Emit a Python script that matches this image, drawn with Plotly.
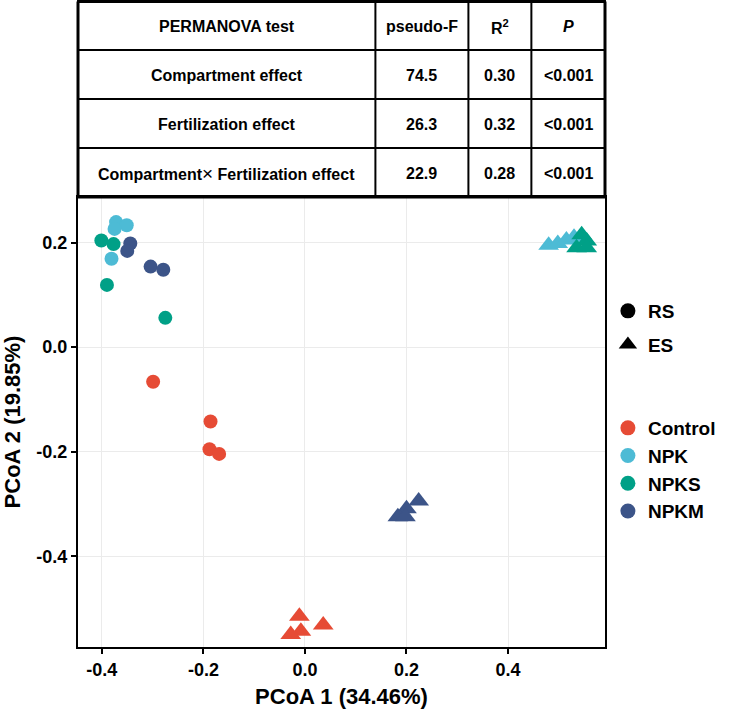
import plotly.graph_objects as go

# ---------------- data ----------------
groups = ["Control", "NPK", "NPKS", "NPKM"]
group_colors = ["#E64B35", "#4DBBD5", "#00A087", "#3C5488"]

# RS compartment (circles)
rs_control_x = [-0.299, -0.186, -0.188, -0.169]
rs_control_y = [-0.066, -0.142, -0.195, -0.204]
rs_npk_x = [-0.372, -0.351, -0.375, -0.381]
rs_npk_y = [0.239, 0.233, 0.226, 0.169]
rs_npks_x = [-0.401, -0.377, -0.390, -0.275]
rs_npks_y = [0.204, 0.197, 0.119, 0.056]
rs_npkm_x = [-0.344, -0.350, -0.304, -0.279]
rs_npkm_y = [0.198, 0.184, 0.154, 0.148]

# ES compartment (triangles)
es_control_x = [-0.011, 0.036, -0.008, -0.028]
es_control_y = [-0.514, -0.531, -0.543, -0.549]
es_npk_x = [0.480, 0.498, 0.515, 0.530]
es_npk_y = [0.195, 0.198, 0.205, 0.210]
es_npks_x = [0.545, 0.555, 0.535, 0.555]
es_npks_y = [0.215, 0.203, 0.190, 0.190]
es_npkm_x = [0.224, 0.200, 0.183, 0.198]
es_npkm_y = [-0.294, -0.309, -0.324, -0.324]

# axes
x_tickvals = [-0.4, -0.2, 0.0, 0.2, 0.4]
x_ticktext = ["-0.4", "-0.2", "0.0", "0.2", "0.4"]
y_tickvals = [-0.4, -0.2, 0.0, 0.2]
y_ticktext = ["-0.4", "-0.2", "0.0", "0.2"]
x_title = "PCoA 1 (34.46%)"
y_title = "PCoA 2 (19.85%)"

# PERMANOVA table
table_header = ["PERMANOVA test", "pseudo-F", "R<sup>2</sup>", "<i>P</i>"]
effects = ["Compartment effect", "Fertilization effect",
           "Compartment<span style=\"font-weight:normal;font-size:19px\">\u00d7</span> Fertilization effect"]
pseudo_f = ["74.5", "26.3", "22.9"]
r_squared = ["0.30", "0.32", "0.28"]
p_values = ["&lt;0.001", "&lt;0.001", "&lt;0.001"]

shape_labels = ["RS", "ES"]
shape_symbols = ["circle", "triangle-up"]

# ---------------- layout geometry (pixels) ----------------
W, H = 733, 710
L, R, T, B = 78, 622, 197, 647


def pxx(px):
    return (px - L) / (R - L)


def pxy(py):
    return (B - py) / (B - T)


FONT = "Arial, 'Liberation Sans', sans-serif"
BOLD = dict(family=FONT, color="black", weight="bold")

fig = go.Figure()

rs_sets = [(rs_control_x, rs_control_y), (rs_npk_x, rs_npk_y),
           (rs_npks_x, rs_npks_y), (rs_npkm_x, rs_npkm_y)]
es_sets = [(es_control_x, es_control_y), (es_npk_x, es_npk_y),
           (es_npks_x, es_npks_y), (es_npkm_x, es_npkm_y)]

for g, c, (xs, ys) in zip(groups, group_colors, rs_sets):
    fig.add_trace(go.Scatter(x=xs, y=ys, mode="markers", showlegend=False,
                             marker=dict(symbol="circle", size=14, color=c,
                                         line=dict(width=0))))
for g, c, (xs, ys) in zip(groups, group_colors, es_sets):
    fig.add_trace(go.Scatter(x=xs, y=ys, mode="markers", showlegend=False,
                             marker=dict(symbol="triangle-up", size=18, color=c,
                                         line=dict(width=0))))

# legend entries: shapes
for i, (lab, sym) in enumerate(zip(shape_labels, shape_symbols)):
    fig.add_trace(go.Scatter(x=[None], y=[None], mode="markers", name=lab,
                             legend="legend", legendgroup="s%d" % i,
                             marker=dict(symbol=sym, size=15 if i == 0 else 19,
                                         color="black", line=dict(width=0))))
# legend entries: colours
for i, (g, c) in enumerate(zip(groups, group_colors)):
    fig.add_trace(go.Scatter(x=[None], y=[None], mode="markers", name=g,
                             legend="legend2", legendgroup="c%d" % i,
                             marker=dict(symbol="circle", size=15, color=c,
                                         line=dict(width=0))))

# ---------------- table ----------------
col_x = [78, 385, 481, 546, 622]
row_y = [1.5, 50, 99, 148, 197]
shapes = []
for k, xv in enumerate(col_x):
    w = 3 if k in (0, len(col_x) - 1) else 2
    shapes.append(dict(type="line", xref="paper", yref="paper",
                       x0=pxx(xv), x1=pxx(xv), y0=pxy(row_y[0]), y1=pxy(row_y[-1]),
                       line=dict(color="black", width=w)))
for k, yv in enumerate(row_y):
    w = 3 if k in (0, len(row_y) - 1) else 2
    shapes.append(dict(type="line", xref="paper", yref="paper",
                       x0=pxx(col_x[0] - 1), x1=pxx(col_x[-1] + 1), y0=pxy(yv), y1=pxy(yv),
                       line=dict(color="black", width=w)))

annotations = []
col_centers = [(col_x[i] + col_x[i + 1]) / 2 for i in range(4)]
row_centers = [(row_y[i] + row_y[i + 1]) / 2 for i in range(4)]
table_rows = [table_header] + [[e, f, r, p] for e, f, r, p in
                               zip(effects, pseudo_f, r_squared, p_values)]
for ri, row in enumerate(table_rows):
    for ci, txt in enumerate(row):
        annotations.append(dict(xref="paper", yref="paper",
                                x=pxx(col_centers[ci]), y=pxy(row_centers[ri] + 1),
                                text=txt, showarrow=False,
                                xanchor="center", yanchor="middle",
                                font=dict(BOLD, size=16)))

fig.update_layout(
    width=W, height=H,
    margin=dict(l=L, r=W - R, t=T, b=H - B),
    paper_bgcolor="white", plot_bgcolor="white",
    font=dict(family=FONT, color="black"),
    shapes=shapes, annotations=annotations,
    legend=dict(x=pxx(625), y=pxy(292), xanchor="left", yanchor="top",
                font=dict(BOLD, size=19),
                tracegroupgap=6, itemsizing="trace", bgcolor="rgba(0,0,0,0)"),
    legend2=dict(x=pxx(625), y=pxy(409), xanchor="left", yanchor="top",
                 font=dict(BOLD, size=19),
                 tracegroupgap=0, itemsizing="trace", bgcolor="rgba(0,0,0,0)"),
    xaxis=dict(range=[-0.447, 0.591], tickvals=x_tickvals, ticktext=x_ticktext,
               showline=True, mirror=True, linecolor="black", linewidth=2,
               ticks="outside", ticklen=5, tickwidth=2, tickcolor="black",
               showgrid=True, gridcolor="#EBEBEB", gridwidth=1.2, zeroline=False,
               tickfont=dict(BOLD, size=18), automargin=False,
               title=dict(text=x_title, standoff=10, font=dict(BOLD, size=22))),
    yaxis=dict(range=[-0.573, 0.287], tickvals=y_tickvals, ticktext=y_ticktext,
               showline=True, mirror=True, linecolor="black", linewidth=2,
               ticks="outside", ticklen=5, tickwidth=2, tickcolor="black",
               showgrid=True, gridcolor="#EBEBEB", gridwidth=1.2, zeroline=False,
               tickfont=dict(BOLD, size=18), automargin=False,
               title=dict(text=y_title, standoff=12, font=dict(BOLD, size=22))),
)

fig.write_html("out.html", config={"displayModeBar": False},
               post_script="document.body.style.margin='0px';")
